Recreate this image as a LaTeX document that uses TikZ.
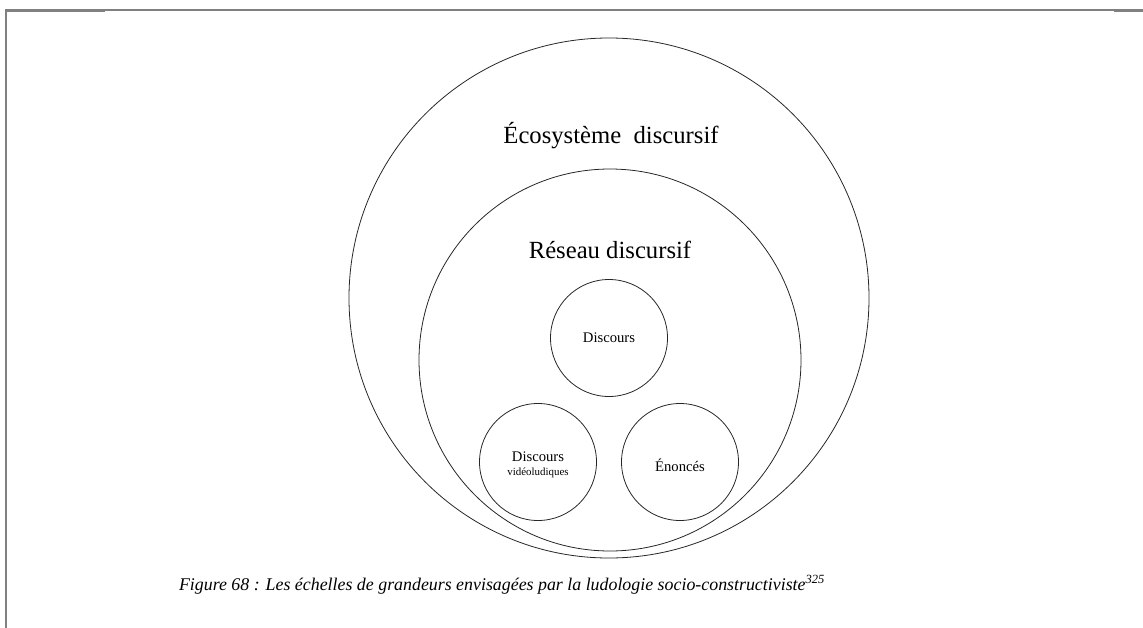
\documentclass[tikz,border=0pt]{standalone}
\usepackage{fontspec}
\setmainfont{Liberation Serif}
\begin{document}
\begin{tikzpicture}[x=0.75pt,y=-0.75pt,
  ring/.style={draw=black!85, line width=0.6pt, circle, inner sep=0pt},
  frameline/.style={draw=black!50, line width=1.5pt},
  big/.style={font=\fontsize{18.5}{22}\selectfont, anchor=base},
  small/.style={font=\fontsize{11}{13}\selectfont, anchor=base},
  tiny/.style={font=\fontsize{8.2}{10}\selectfont, anchor=base}]
\useasboundingbox (0,0) rectangle (1143,628);
% frame
\coordinate (tl) at (6,10);
\coordinate (tr) at (1143,10);
\coordinate (bl) at (6,628);
\draw[frameline] (bl) -- (tl) -- (tr);
\draw[draw=black!50, line width=2.2pt] (6,10.4) -- (105,10.4);
\draw[draw=black!50, line width=2.2pt] (1114,10.4) -- (1143,10.4);
% circles
\node[ring, minimum size=520*0.75pt] (eco) at (609,298) {};
\node[ring, minimum size=382*0.75pt] (res) at (610,360) {};
\node[ring, minimum size=117*0.75pt] (disc) at (609,338) {};
\node[ring, minimum size=117*0.75pt] (vid) at (538,462) {};
\node[ring, minimum size=117*0.75pt] (eno) at (680,462) {};
% labels
\node[big] (ecoL) at (611,143) {Écosystème\ \ discursif};
\node[big] (resL) at (610,258) {Réseau discursif};
\node[small] (discL) at (609,342) {Discours};
\node[small] (vidL1) at (538,461) {Discours};
\node[tiny] (vidL2) at (538,475) {vidéoludiques};
\node[small] (enoL) at (680,471) {Énoncés};
% caption
\node[font=\fontsize{13.4}{16}\selectfont\itshape, anchor=base] (cap) at (502,590)
  {Figure 68 : Les échelles de grandeurs envisagées par la ludologie socio-constructiviste\textsuperscript{325}};
\end{tikzpicture}
\end{document}
